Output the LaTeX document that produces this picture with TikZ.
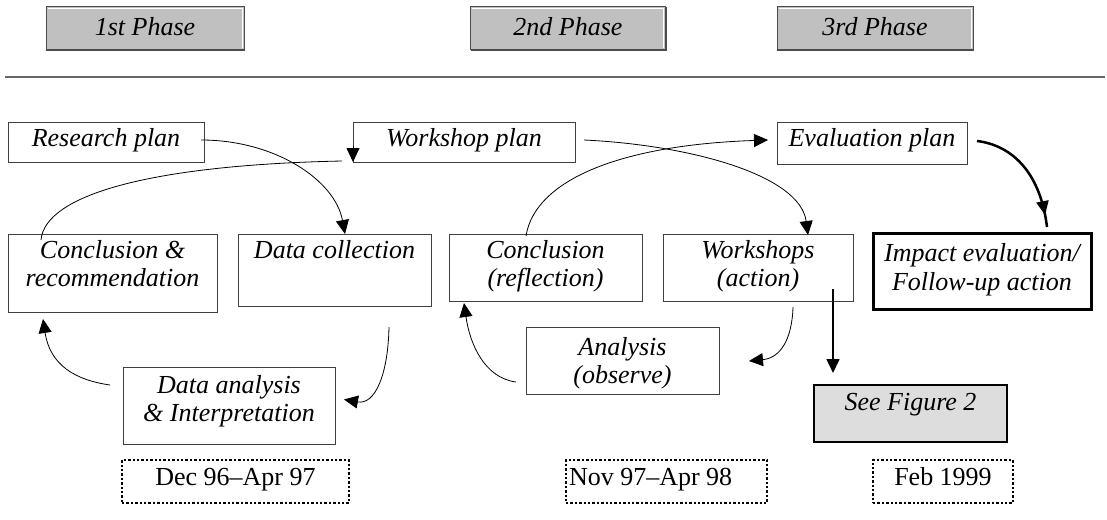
\documentclass[tikz,border=0pt]{standalone}
\usepackage{fontspec}
\setmainfont{Liberation Serif}
\usetikzlibrary{calc,arrows.meta,decorations.markings}
\definecolor{phasegray}{RGB}{192,192,192}
\definecolor{figgray}{RGB}{221,221,221}
% fixed-size cell: width, height, first-baseline depth, text (top aligned)
\newcommand{\celltext}[4]{\parbox[c][#2][t]{#1}{\centering\rule{0pt}{#3}#4}}
\begin{document}
\begin{tikzpicture}[x=1pt,y=-1pt,
  every node/.style={inner sep=0pt,outer sep=0pt},
  txt/.style={font=\fontsize{26}{28.5}\selectfont\itshape},
  cell/.style={txt,draw=black!75,line width=1pt},
  phase/.style={txt,draw=black!70,fill=phasegray,line width=1pt},
  bevel/.style={draw=white,line width=1pt},
  impact/.style={txt,draw=black,line width=3pt},
  figref/.style={txt,draw=black,fill=figgray,line width=2pt},
  period/.style={font=\fontsize{26}{28.5}\selectfont,draw=black,line width=2.4pt,dash pattern=on 2.4pt off 2pt},
  conn/.style={draw=black,line width=0.8pt},
  arr/.style={-{Triangle[length=14pt,width=13pt]}},
  midarr/.style={postaction={decorate},decoration={markings,
     mark=at position 0.9 with {\arrow{Triangle[length=14pt,width=12pt]}}}}
]
\useasboundingbox (0,0) rectangle (1107,519);

% phase headers (raised look) and rule
\foreach \n/\cx/\w/\t in {p1/145/198/1st Phase, p2/568/195/2nd Phase, p3/875/196/3rd Phase}{
  \node[phase] (\n) at (\cx,28.5) {\celltext{\w pt}{43pt}{28.5pt}{\t}};
  \draw[bevel] ($(\n.north west)+(1.5,2)$) -- ($(\n.north east)+(-2,2)$) -- ($(\n.south east)+(-2,-1.5)$);
  \draw[black!70,line width=1.6pt] ($(\n.north east)+(0.3,0)$) -- ($(\n.south east)+(0.3,0.3)$) -- ($(\n.south west)+(0,0.3)$);
}
\draw[line width=1.3pt,black!60] (5,77) -- (1105,77);

% planning row
\node[cell] (rp) at (106,142)     {\celltext{196pt}{40pt}{24pt}{Research plan}};
\node[cell] (wp) at (464,142)     {\celltext{222pt}{40pt}{24pt}{Workshop plan}};
\node[cell] (ep) at (872,143)     {\celltext{190pt}{42pt}{24pt}{Evaluation plan}};

% second row
\node[cell] (cr) at (112.5,273)   {\celltext{209pt}{78pt}{24pt}{Conclusion \&\\recommendation}};
\node[cell] (dc) at (334.5,270)   {\celltext{193pt}{72pt}{24pt}{Data collection}};
\node[cell] (cf) at (545.5,267.5) {\celltext{193pt}{67pt}{24pt}{Conclusion\\(reflection)}};
\node[cell] (wa) at (758,267.5)   {\celltext{190pt}{67pt}{24pt}{Workshops\\(action)}};
\node[impact] (ie) at (982,271)   {\celltext{218pt}{76pt}{28.5pt}{Impact evaluation/\\Follow-up action}};

% third row
\node[cell] (da) at (229,405.5)   {\celltext{212pt}{77pt}{26pt}{Data analysis\\\& Interpretation}};
\node[cell] (ao) at (622.5,360.5) {\celltext{193pt}{67pt}{28pt}{Analysis\\(observe)}};
\node[figref] (sf) at (910.5,413.5) {\celltext{193pt}{57pt}{25pt}{See Figure 2}};

% time spans
\node[period] (d1) at (235.5,481.5) {\celltext{227pt}{43pt}{25pt}{Dec 96–Apr 97}};
\node[period] (d2) at (666.5,481.5) {\celltext{201pt}{43pt}{25pt}{\raggedright\hspace*{3pt}Nov 97–Apr 98}};
\node[period] (d3) at (943,481.5)   {\celltext{140pt}{43pt}{25pt}{Feb 1999}};

% first cycle
\draw[conn,arr] ($(rp.east)+(-3,-2)$) .. controls (275,140) and (335,180) .. ($(dc.north)+(10.5,0)$);
\draw[conn,arr] ($(dc.south)+(54.5,21)$) .. controls (388,375) and (375,405) .. ($(da.east)+(9,-6)$);
\draw[conn,arr] ($(da.west)+(-13,-20.5)$) .. controls (75,380) and (50,365) .. ($(cr.south west)+(35,7)$);
\draw[conn] ($(cr.north)+(-71.5,6)$) .. controls (45,195) and (150,165) .. ($(wp.south west)+(-11,-1)$);
\draw[conn,arr] ($(wp.south west)+(0,-16)$) -- (wp.south west);

% second cycle
\draw[conn,arr] ($(wp.east)+(9,-2)$) .. controls (690,145) and (800,175) .. ($(wa.north)+(50,1)$);
\draw[conn,arr] ($(wa.south)+(35,6)$) .. controls (792,340) and (780,358) .. ($(ao.east)+(30,0.5)$);
\draw[conn,arr] ($(ao.west)+(-10,21.5)$) .. controls (485,378) and (470,345) .. ($(cf.south west)+(15,2)$);
\draw[conn,arr] ($(cf.north)+(-19.5,2)$) .. controls (535,180) and (620,145) .. ($(ep.west)+(-9,-3)$);
\draw[conn,line width=1.6pt,arr] ($(wa.south east)+(-20,-12)$) -- ($(sf.north)+(-77.5,-12)$);

% third phase
\draw[conn,line width=2.5pt,midarr] ($(ep.east)+(10,-2)$) .. controls (1010,145) and (1040,170) .. ($(ie.north)+(65,-6)$);
\end{tikzpicture}
\end{document}
